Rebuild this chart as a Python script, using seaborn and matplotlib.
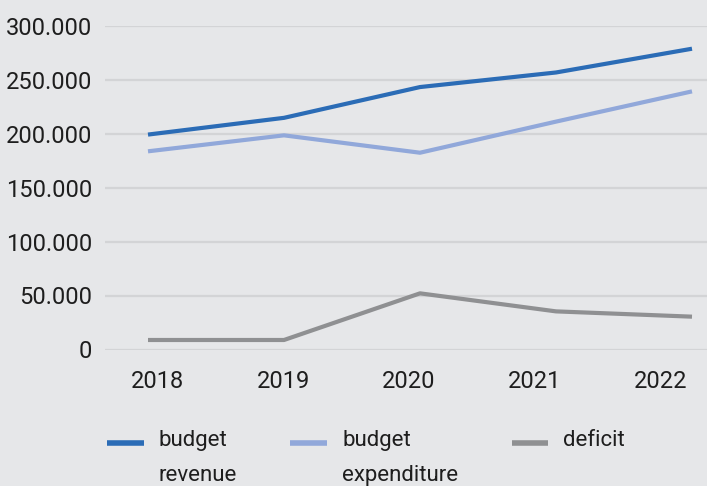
import matplotlib
matplotlib.use("Agg")
import matplotlib.pyplot as plt
from matplotlib.ticker import FuncFormatter
import seaborn as sns
import pandas as pd

years = ["2018", "2019", "2020", "2021", "2022"]
budget_revenue = [199000, 214500, 243000, 256500, 278500]
budget_expenditure = [183500, 198300, 182200, 211000, 239000]
deficit = [8800, 8800, 52000, 35300, 30400]
y_ticks = [0, 50000, 100000, 150000, 200000, 250000, 300000]

series_names = ["budget\nrevenue", "budget\nexpenditure", "deficit"]
series_colors = ["#2b6cb6", "#91a8da", "#8f9092"]

df = pd.DataFrame({
    "pos": list(range(len(years))) * 3,
    "value": budget_revenue + budget_expenditure + deficit,
    "series": [series_names[0]] * 5 + [series_names[1]] * 5 + [series_names[2]] * 5,
})

BG = "#e6e7e9"
TEXT = "#1e1e1e"
sns.set_theme(style="white")
plt.rcParams["font.family"] = ["Roboto", "DejaVu Sans"]

fig = plt.figure(figsize=(7.07, 4.86), dpi=100, facecolor=BG)
ax = fig.add_axes([105 / 707, 1 - 349.5 / 486, 1 - 105 / 707, 324 / 486])
ax.set_facecolor(BG)

sns.lineplot(data=df, x="pos", y="value", hue="series", hue_order=series_names,
             palette=series_colors, linewidth=3.0, ax=ax, legend=False,
             solid_capstyle="butt")

ax.set_xlim(-43 / 136, 4 + 15 / 136)
ax.set_ylim(0, 300000)
ax.set_yticks(y_ticks)
ax.yaxis.set_major_formatter(FuncFormatter(lambda v, p: f"{int(v):,}".replace(",", ".")))
# category labels sit on an evenly spaced band slightly narrower than the lines
label_pos = [(px - 148) / 136 for px in (157, 283, 409, 535, 661)]
ax.set_xticks(label_pos)
ax.set_xticklabels(years)
ax.grid(axis="y", color="#d3d4d6", linewidth=1.6)
ax.set_axisbelow(True)
for s in ax.spines.values():
    s.set_visible(False)
ax.tick_params(axis="y", length=0, pad=9, labelsize=17, labelcolor=TEXT)
ax.tick_params(axis="x", length=0, pad=15, labelsize=17, labelcolor=TEXT)
ax.set_xlabel("")
ax.set_ylabel("")

handles = [plt.Line2D([], [], color=c, linewidth=4.0, solid_capstyle="butt") for c in series_colors]
leg = fig.legend(handles, series_names, loc="upper left",
                 bbox_to_anchor=(107 / 707, 1 - 430 / 486), ncol=3, frameon=False,
                 fontsize=16, handlelength=1.65, handleheight=2.2, handletextpad=0.68,
                 columnspacing=2.4, borderaxespad=0, borderpad=0)
for t in leg.get_texts():
    t.set_color(TEXT)
    t.set_linespacing(1.85)
# hang every entry from its top edge so the swatch sits beside the first text line
leg._legend_handle_box.align = "top"
for column in leg._legend_handle_box.get_children():
    column.align = "left"
    for item in column.get_children():
        item.align = "top"

fig.savefig("out.png", dpi=100, facecolor=BG)
